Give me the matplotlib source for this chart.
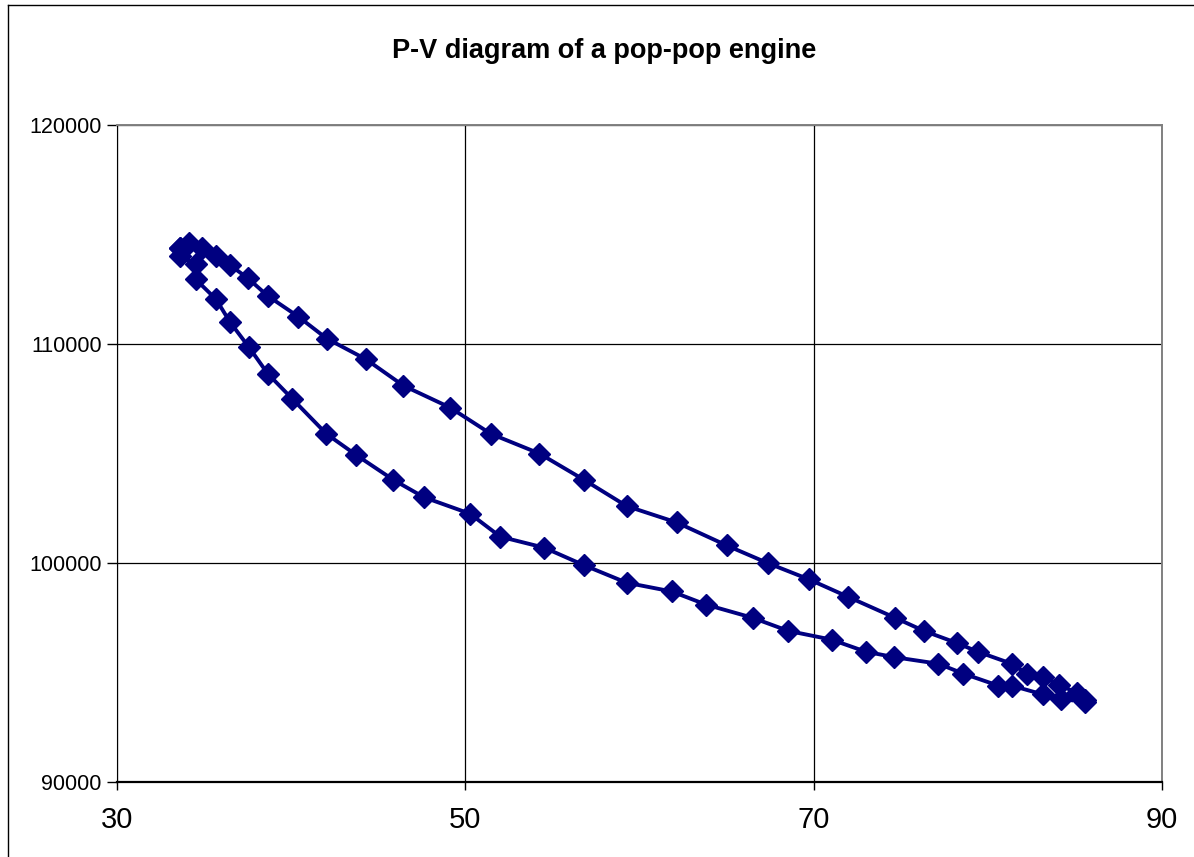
#!/usr/bin/env python3
"""
P-V diagram of a pop-pop engine, recreated from a spreadsheet chart.
"""
import matplotlib
matplotlib.use("Agg")
import matplotlib.pyplot as plt
from matplotlib.lines import Line2D

# volume (upper branch left to right, then lower branch right to left)
volume = [
    33.62, 34.13, 34.88, 35.68, 36.49, 37.52, 38.65, 40.41, 42.04, 44.30,
    46.44, 49.12, 51.46, 54.25, 56.81, 59.26, 62.14, 65.01, 67.35, 69.74,
    71.99, 74.67, 76.33, 78.21, 79.42, 81.37, 82.23, 83.15, 84.11, 85.12,
    85.58,
    85.58, 84.20, 83.15, 81.37, 80.60, 78.59, 77.16, 74.63, 72.99, 71.03,
    68.54, 66.49, 63.82, 61.85, 59.26, 56.81, 54.53, 52.01, 50.27, 47.63,
    45.86, 43.70, 42.02, 40.06, 38.65, 37.58, 36.49, 35.68, 34.52, 34.54,
    33.62,
]
pressure = [
    114400, 114600, 114400, 114000, 113600, 113000, 112200, 111250, 110250, 109300,
    108100, 107100, 105900, 105000, 103800, 102600, 101850, 100800, 100000, 99250,
    98450, 97500, 96900, 96350, 95950, 95400, 94950, 94800, 94450, 94050,
    93750,
    93650, 93800, 94000, 94400, 94400, 94950, 95400, 95700, 95950, 96500,
    96900, 97500, 98100, 98700, 99100, 99900, 100700, 101200, 102250, 103000,
    103800, 104950, 105900, 107500, 108650, 109850, 111000, 112050, 112950, 113650,
    114000,
]

x_ticks = [30, 50, 70, 90]
y_ticks = [90000, 100000, 110000, 120000]

plt.rcParams['font.family'] = ['Liberation Sans', 'DejaVu Sans']

fig = plt.figure(figsize=(11.94, 8.57), dpi=100)
ax = fig.add_axes([117 / 1194, 1 - 782 / 857, (1162 - 117) / 1194, (782 - 125) / 857])

# closed loop
xs = volume + volume[:1]
ys = pressure + pressure[:1]
ax.plot(xs, ys, color='#000080', linewidth=2.8, marker='D',
        markersize=11.5, markerfacecolor='#000080', markeredgecolor='#000080',
        zorder=3, clip_on=False)

ax.set_xlim(30, 90)
ax.set_ylim(90000, 120000)
ax.set_xticks(x_ticks)
ax.set_yticks(y_ticks)
ax.set_xticklabels([str(v) for v in x_ticks], fontsize=21)
ax.set_yticklabels([str(v) for v in y_ticks], fontsize=15.5)
ax.tick_params(axis='x', direction='out', length=6, width=1, pad=11)
ax.tick_params(axis='y', direction='out', length=7, width=1, pad=4)

ax.grid(True, color='black', linewidth=0.9, zorder=1)
ax.set_axisbelow(True)

ax.spines['left'].set_color('black')
ax.spines['bottom'].set_color('black')
ax.spines['bottom'].set_linewidth(1.6)
ax.spines['top'].set_color('#808080')
ax.spines['right'].set_color('#808080')
ax.spines['top'].set_linewidth(1.4)
ax.spines['right'].set_linewidth(1.4)

fig.text(604 / 1194, 1 - 51 / 857, "P-V diagram of a pop-pop engine",
         ha='center', va='center', fontsize=19.5, fontweight='bold')

# outer chart frame (left and top edges visible)
fig.add_artist(Line2D([8 / 1194, 8 / 1194], [-0.01, 1 - 5 / 857],
                      color='black', linewidth=1, transform=fig.transFigure))
fig.add_artist(Line2D([8 / 1194, 1.01], [1 - 5 / 857, 1 - 5 / 857],
                      color='black', linewidth=1, transform=fig.transFigure))

fig.savefig("out.png", dpi=100)
